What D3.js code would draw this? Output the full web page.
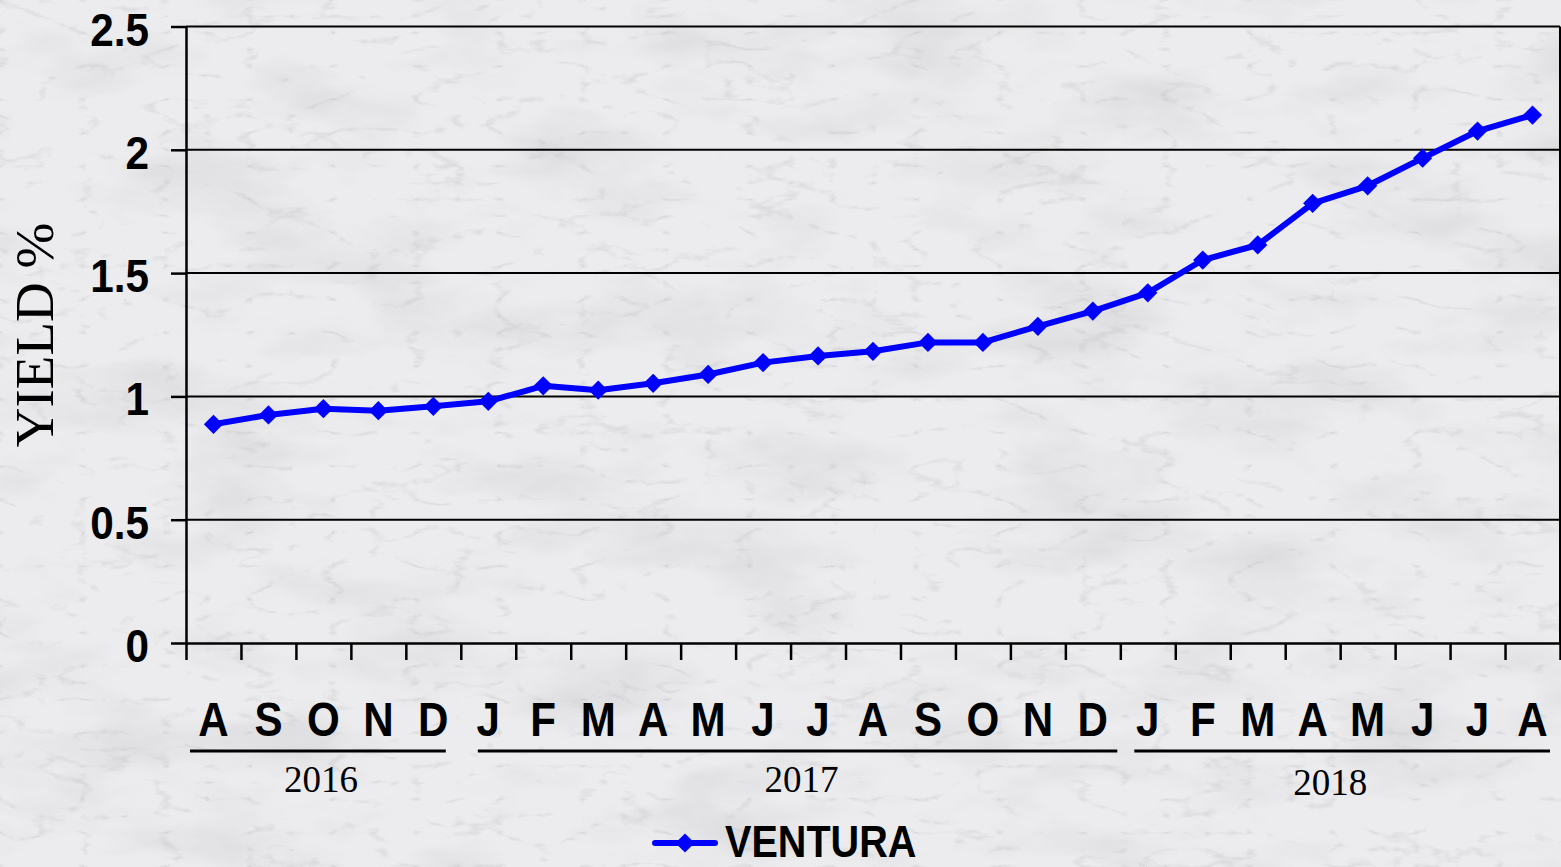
<!DOCTYPE html>
<html>
<head>
<meta charset="utf-8">
<script src="https://cdn.jsdelivr.net/npm/d3@7"></script>
<style>
  html, body { margin: 0; padding: 0; background: #ececee; overflow: hidden; }
</style>
</head>
<body>
<div id="chart"></div>
<script>
// monthly yield, Aug 2016 .. Aug 2018
const months = ['A','S','O','N','D','J','F','M','A','M','J','J','A','S','O','N','D','J','F','M','A','M','J','J','A'];
const yieldPct = [0.887, 0.925, 0.950, 0.942, 0.960, 0.980, 1.043, 1.025, 1.053, 1.089,
  1.137, 1.164, 1.183, 1.219, 1.219, 1.284, 1.346, 1.420, 1.553, 1.614,
  1.783, 1.854, 1.966, 2.076, 2.141];
const yTicks = [0, 0.5, 1, 1.5, 2, 2.5];
const yTickLabels = ['0', '0.5', '1', '1.5', '2', '2.5'];
const years = ['2016', '2017', '2018'];
const yearStart = [0, 5, 17];
const yearEnd = [4, 16, 24];
const seriesName = 'VENTURA';

let w = 1561;
let h = 867;
let padL = 186, padR = 1560, padT = 26.5, padB = 643;
const sans = '"Liberation Sans", Arial, sans-serif';
const serif = '"Liberation Serif", "Times New Roman", serif';

let svg = d3.select('#chart').
append('svg').
attr('width', w).
attr('height', h);

// marble-ish backdrop
let defs = svg.append('defs');
let f = defs.append('filter').attr('id', 'marble').
attr('x', 0).attr('y', 0).attr('width', '100%').attr('height', '100%');
f.append('feTurbulence').attr('type', 'fractalNoise').
attr('baseFrequency', '0.006 0.014').attr('numOctaves', 5).attr('seed', 7).attr('result', 'n');
f.append('feColorMatrix').attr('in', 'n').attr('type', 'matrix').
attr('values', '0 0 0 0 0.5  0 0 0 0 0.5  0 0 0 0 0.52  -1.6 0 0 0 0.85');
let f2 = defs.append('filter').attr('id', 'veins').
attr('x', 0).attr('y', 0).attr('width', '100%').attr('height', '100%');
f2.append('feTurbulence').attr('type', 'turbulence').
attr('baseFrequency', '0.012 0.03').attr('numOctaves', 4).attr('seed', 3).attr('result', 'n');
f2.append('feColorMatrix').attr('in', 'n').attr('type', 'matrix').
attr('values', '0 0 0 0 0.45  0 0 0 0 0.46  0 0 0 0 0.48  -2.4 0 0 0 0.4');

svg.append('rect').attr('width', w).attr('height', h).attr('fill', '#ececee');
svg.append('rect').attr('width', w).attr('height', h).attr('filter', 'url(#marble)').attr('opacity', 0.5);
svg.append('rect').attr('width', w).attr('height', h).attr('filter', 'url(#veins)').attr('opacity', 0.8);

let x = d3.scaleBand().
domain(d3.range(months.length)).
range([padL, padR]);
let bw = x.bandwidth();
let xEdge = d3.scaleLinear().
domain([0, months.length]).
range([padL, padR]);

let y = d3.scaleLinear().
domain([0, 2.5]).
range([padB, padT]);

function label(g, txt, tx, ty, size, sx, anchor, family, weight) {
  return g.append('text').
  text(txt).
  attr('transform', 'translate(' + tx + ',' + ty + ') scale(' + sx + ',1)').
  attr('text-anchor', anchor).
  style('font-family', family).
  style('font-weight', weight).
  style('font-size', size + 'px').
  attr('fill', '#000');
}

// grid
svg.append('g').selectAll('line').
data(yTicks.filter(d => d > 0)).
enter().
append('line').
attr('x1', padL).
attr('x2', padR).
attr('y1', d => y(d)).
attr('y2', d => y(d)).
attr('stroke', '#000').
attr('stroke-width', 2);

svg.append('line').
attr('x1', padR).attr('x2', padR).
attr('y1', y(2.5)).attr('y2', y(0)).
attr('stroke', '#000').attr('stroke-width', 2);

// y axis
let yAxis = d3.axisLeft(y).
tickValues(yTicks).
tickSize(15).
tickSizeOuter(0).
tickFormat('');
let yg = svg.append('g').
attr('transform', 'translate(' + padL + ',0)').
call(yAxis);
yg.selectAll('path, line').attr('stroke', '#000').attr('stroke-width', 2.5);

let yl = svg.append('g');
yTicks.forEach((v, i) => {
  label(yl, yTickLabels[i], padL - 37, y(v) + 19, 47, 0.9, 'end', sans, 'bold');
});

// x axis
let xAxis = d3.axisBottom(xEdge).
tickValues(d3.range(months.length + 1)).
tickSize(17).
tickSizeOuter(0).
tickFormat('');
let xg = svg.append('g').
attr('transform', 'translate(0,' + padB + ')').
call(xAxis);
xg.selectAll('path, line').attr('stroke', '#000').attr('stroke-width', 2.5);

let ml = svg.append('g');
months.forEach((m, i) => {
  label(ml, m, x(i) + bw / 2, 736, 49, 0.86, 'middle', sans, 'bold');
});

// year brackets (insets tuned by eye)
let insetL = [4, 17, 14];
let insetR = [15, 3, 10];
let nudge = [3, 4, -12];
let yrs = svg.append('g');
years.forEach((yr, i) => {
  let x1 = x(yearStart[i]) + insetL[i];
  let x2 = x(yearEnd[i]) + bw - insetR[i];
  yrs.append('line').
  attr('x1', x1).attr('x2', x2).
  attr('y1', 751).attr('y2', 751).
  attr('stroke', '#000').attr('stroke-width', 3);
  label(yrs, yr, (x1 + x2) / 2 + nudge[i], i == 2 ? 795 : 792, 37, 1, 'middle', serif, 'normal');
});

// y title
svg.append('text').
text('YIELD %').
attr('transform', 'translate(53,335) rotate(-90)').
attr('text-anchor', 'middle').
style('font-family', serif).
style('font-size', '55px').
attr('fill', '#000');

// series
let line = d3.line().
x((d, i) => x(i) + bw / 2).
y(d => y(d));

svg.append('path').
datum(yieldPct).
attr('d', line).
attr('fill', 'none').
attr('stroke', '#0000ff').
attr('stroke-width', 6).
attr('stroke-linejoin', 'round');

let diamond = d3.symbol(d3.symbolSquare, 185);
svg.selectAll('.pt').
data(yieldPct).
enter().
append('path').
attr('class', 'pt').
attr('d', diamond).
attr('transform', (d, i) => 'translate(' + (x(i) + bw / 2) + ',' + y(d) + ') rotate(45)').
attr('fill', '#0000ff');

// legend
let lg = svg.append('g').attr('transform', 'translate(655,843)');
lg.append('line').
attr('x1', 0).attr('x2', 60).
attr('y1', 0).attr('y2', 0).
attr('stroke', '#0000ff').attr('stroke-width', 6).attr('stroke-linecap', 'round');
lg.append('path').
attr('d', diamond).
attr('transform', 'translate(30,0) rotate(45)').
attr('fill', '#0000ff');
label(lg, seriesName, 70, 14, 44, 0.9, 'start', sans, 'bold');
</script>
</body>
</html>
